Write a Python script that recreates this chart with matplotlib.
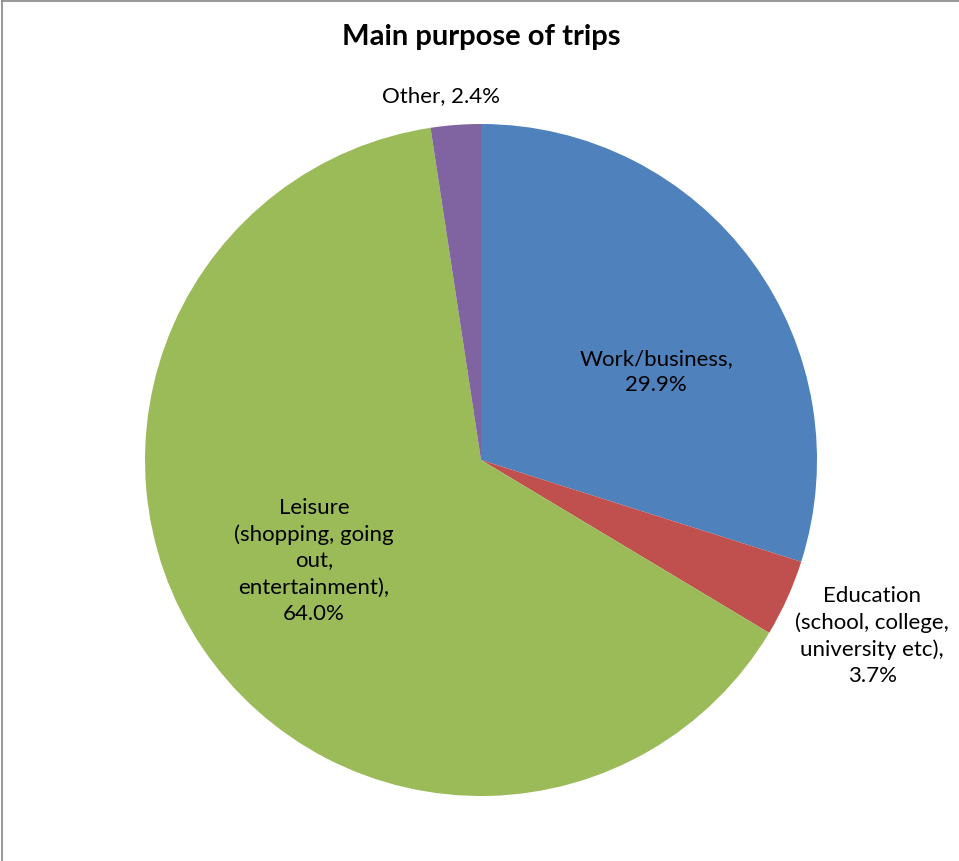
import matplotlib
matplotlib.use("Agg")
import matplotlib.pyplot as plt
from matplotlib.lines import Line2D

plt.rcParams['font.family'] = ['Lato', 'DejaVu Sans']

categories = ["Work/business",
              "Education\n(school, college,\nuniversity etc)",
              "Leisure\n(shopping, going\nout,\nentertainment)",
              "Other"]
shares = [29.9, 3.7, 64.0, 2.4]
colors = ["#4F81BD", "#C0504D", "#9BBB59", "#8064A2"]
two_line = [True, True, True, False]

# label anchor points in pie units (radius = 1)
label_pos = [(0.521, 0.265), (1.164, -0.521), (-0.497, -0.298), (-0.119, 1.086)]

W, H = 959, 862
fig = plt.figure(figsize=(W / 100, H / 100), dpi=100)

# pie box: centre at (481, 461) px, radius 336 px
cx, cy, r = 481, 461, 336
ax = fig.add_axes([(cx - r) / W, (H - cy - r) / H, 2 * r / W, 2 * r / H])
ax.pie(shares, colors=colors, startangle=90, counterclock=False,
       wedgeprops=dict(linewidth=0))
ax.set_xlim(-1, 1)
ax.set_ylim(-1, 1)
ax.set_aspect('auto')
ax.axis('off')

for name, val, split, (x, y) in zip(categories, shares, two_line, label_pos):
    sep = "\n" if split else " "
    ax.text(x, y, f"{name},{sep}{val:.1f}%", ha='center', va='center',
            fontsize=16, linespacing=1.4, color='#000000')

fig.text(481 / W, 1 - 37 / H, "Main purpose of trips", ha='center', va='center',
         fontsize=21, fontweight='bold')

# chart area border (left and top edges)
fig.add_artist(Line2D([1.5 / W, 1.5 / W], [0, 1 - 2 / H], color='#868686', lw=1.2))
fig.add_artist(Line2D([1.5 / W, 1], [1 - 2 / H, 1 - 2 / H], color='#868686', lw=1.2))

fig.savefig("out.png", dpi=100, facecolor='white')
